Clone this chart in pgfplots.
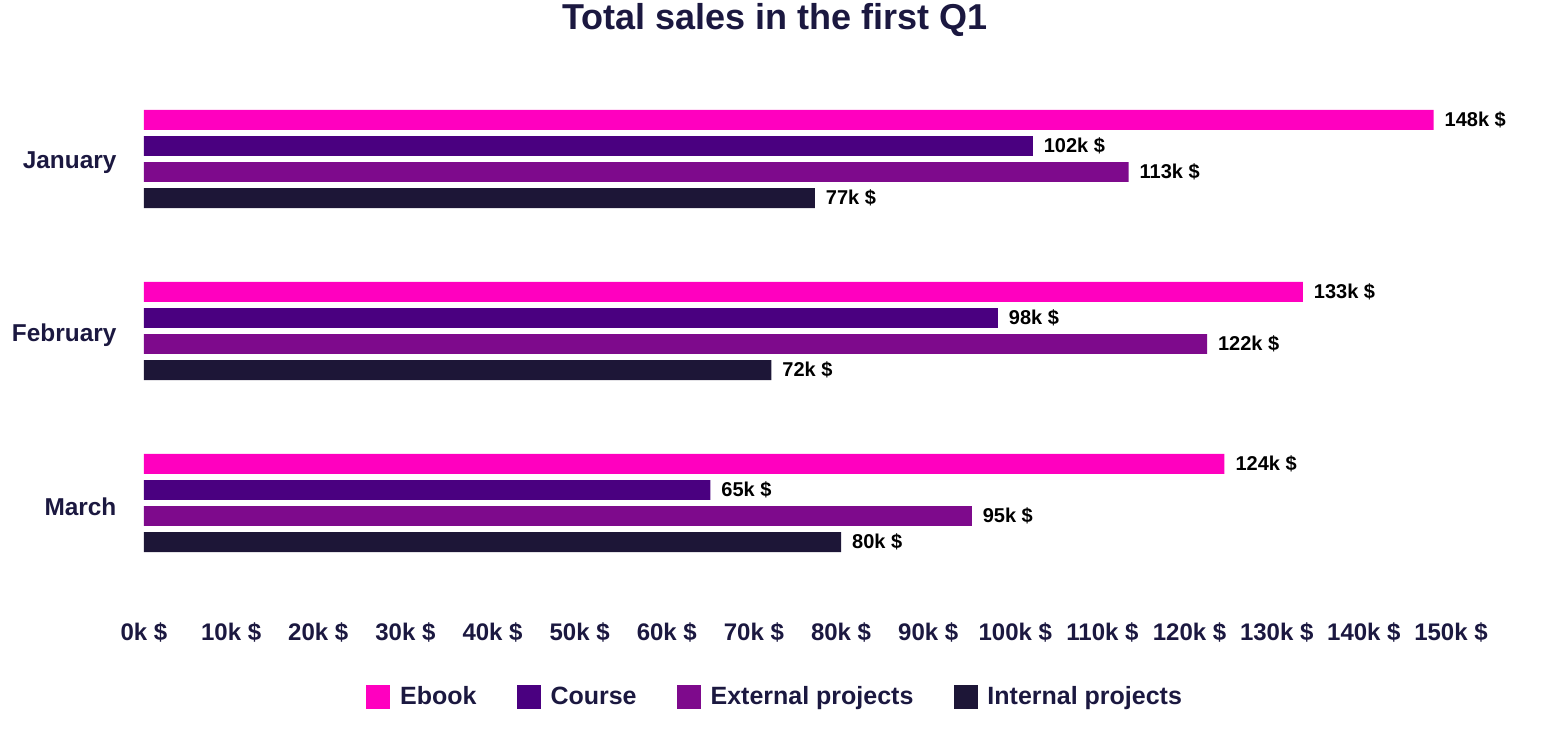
\documentclass[border=0pt]{standalone}
\usepackage{pgfplots}
\pgfplotsset{compat=1.18}
\usepackage{fontspec}
\setmainfont{Liberation Sans}
\definecolor{cEbook}{HTML}{FF00BF}
\definecolor{cCourse}{HTML}{4A0080}
\definecolor{cExt}{HTML}{7E0A8C}
\definecolor{cInt}{HTML}{1D1637}
\definecolor{cText}{HTML}{1B1840}
\begin{document}
\begin{tikzpicture}
\begin{axis}[
  at={(0,0)}, anchor=south west,
  scale only axis,
  width=653.5pt, height=258pt,
  xbar,
  xmin=0, xmax=150,
  ymin=-0.5, ymax=2.5,
  y dir=reverse,
  /pgf/number format/assume math mode=true,
  axis line style={draw=none},
  tick style={draw=none},
  xtick={0,10,...,150},
  xticklabels={0k \$,10k \$,20k \$,30k \$,40k \$,50k \$,60k \$,70k \$,80k \$,90k \$,100k \$,110k \$,120k \$,130k \$,140k \$,150k \$},
  ytick={0,1,2},
  yticklabels={January,February,March},
  xticklabel style={font=\bfseries\fontsize{12}{14}\selectfont, text=cText, yshift=-13.5pt},
  yticklabel style={font=\bfseries\fontsize{12.2}{14}\selectfont, text=cText, xshift=-6pt, yshift=-2pt},
  bar width=0.116,
  point meta=x,
  nodes near coords={\pgfmathprintnumber{\pgfplotspointmeta}k \$},
  nodes near coords style={font=\bfseries\fontsize{10}{12}\selectfont, text=black, anchor=west, xshift=2pt},
  legend columns=4,
  legend style={draw=none, fill=none, at={(0.4836,-0.2093)}, anchor=center,
    font=\bfseries\fontsize{12.5}{14}\selectfont, text=cText,
    /tikz/every odd column/.append style={column sep=3pt},
    /tikz/every even column/.append style={column sep=18pt}},
  legend image code/.code={\fill[#1] (0pt,-6pt) rectangle (12pt,6pt);},
]
\addplot[fill=cEbook, draw=none, bar shift=-0.227] coordinates {(148,0) (133,1) (124,2)};
\addlegendentry{Ebook}
\addplot[fill=cCourse, draw=none, bar shift=-0.0757] coordinates {(102,0) (98,1) (65,2)};
\addlegendentry{Course}
\addplot[fill=cExt, draw=none, bar shift=0.0757] coordinates {(113,0) (122,1) (95,2)};
\addlegendentry{External projects}
\addplot[fill=cInt, draw=none, bar shift=0.227] coordinates {(77,0) (72,1) (80,2)};
\addlegendentry{Internal projects}
\end{axis}
\node[font=\bfseries\fontsize{18}{22}\selectfont, text=cText] at (315.5pt,284.5pt) {Total sales in the first Q1};
\pgfresetboundingbox
\useasboundingbox (-72pt,-79.5pt) rectangle (705pt,294.5pt);
\end{tikzpicture}
\end{document}
